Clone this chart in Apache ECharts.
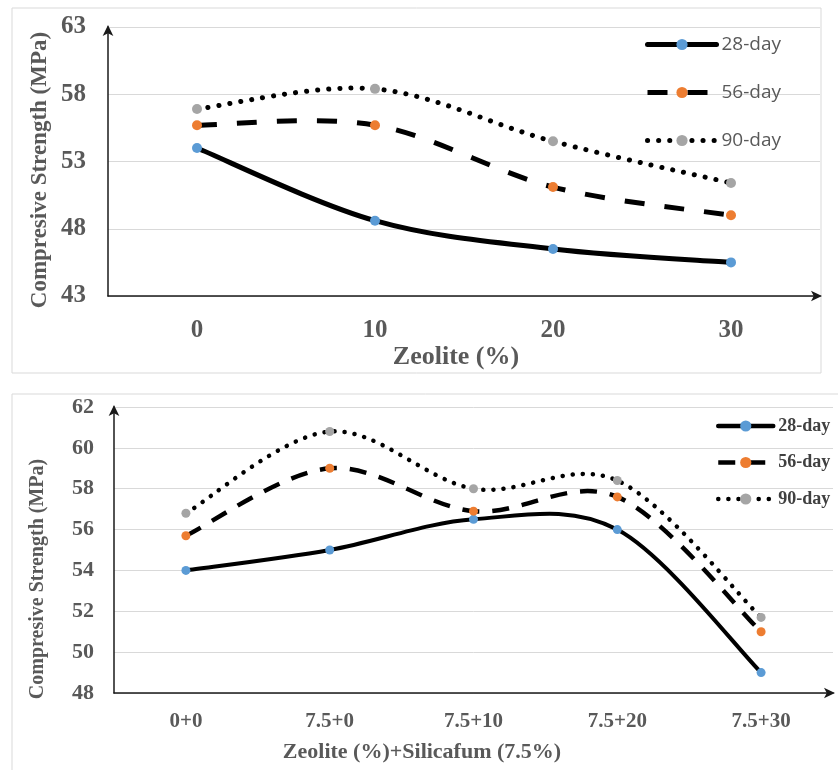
<!DOCTYPE html>
<html>
<head>
<meta charset="utf-8">
<script src="https://cdn.jsdelivr.net/npm/echarts@6/dist/echarts.min.js"></script>
<style>
  html, body { margin: 0; padding: 0; background: #fff; }
  #chart { width: 838px; height: 770px; }
</style>
</head>
<body>
<div id="chart"></div>
<script>
// Compressive strength of concrete with zeolite (top) and zeolite + silica fume (bottom)
const seriesNames = ['28-day', '56-day', '90-day'];

const zeoliteCategories = ['0', '10', '20', '30'];
const zeolite28 = [54.0, 48.6, 46.5, 45.5];
const zeolite56 = [55.7, 55.7, 51.1, 49.0];
const zeolite90 = [56.9, 58.4, 54.5, 51.4];
const zeoliteTicks = [43, 48, 53, 58, 63];

const blendCategories = ['0+0', '7.5+0', '7.5+10', '7.5+20', '7.5+30'];
const blend28 = [54.0, 55.0, 56.5, 56.0, 49.0];
const blend56 = [55.7, 59.0, 56.9, 57.6, 51.0];
const blend90 = [56.8, 60.8, 58.0, 58.4, 51.7];
const blendTicks = [48, 50, 52, 54, 56, 58, 60, 62];

const markerColors = ['#5B9BD5', '#ED7D31', '#A5A5A5'];
const labelGray = '#595959';
const serif = '"Liberation Serif", "Times New Roman", serif';

// Stroke styles: [top chart, bottom chart] for each age
const strokeStyles = [
  [{ width: 5, dash: null, cap: 'round' }, { width: 4, dash: null, cap: 'round' }],
  [{ width: 5, dash: [20, 20], cap: 'butt' }, { width: 4.5, dash: [17, 13], cap: 'butt' }],
  [{ width: 5, dash: [0.1, 11], cap: 'round' }, { width: 4.5, dash: [0.1, 10], cap: 'round' }]
];

// Cardinal (Catmull-Rom style) curve through the projected points, the way
// spreadsheet "smoothed line" charts draw it (overshoot allowed).
function smoothPath(pts) {
  let d = 'M' + pts[0][0] + ' ' + pts[0][1];
  const n = pts.length;
  for (let i = 0; i < n - 1; i++) {
    const p0 = pts[Math.max(i - 1, 0)];
    const p1 = pts[i];
    const p2 = pts[i + 1];
    const p3 = pts[Math.min(i + 2, n - 1)];
    const c1x = p1[0] + (p2[0] - p0[0]) / 6;
    const c1y = p1[1] + (p2[1] - p0[1]) / 6;
    const c2x = p2[0] - (p3[0] - p1[0]) / 6;
    const c2y = p2[1] - (p3[1] - p1[1]) / 6;
    d += ' C' + c1x + ' ' + c1y + ' ' + c2x + ' ' + c2y + ' ' + p2[0] + ' ' + p2[1];
  }
  return d;
}

function curveSeries(values, idx, gridIdx) {
  const s = strokeStyles[idx][gridIdx];
  return {
    type: 'custom',
    xAxisIndex: gridIdx,
    yAxisIndex: gridIdx,
    data: values.map((v, i) => [i, v]),
    z: 2 + idx,
    silent: true,
    renderItem: function (params, api) {
      if (params.dataIndex !== 0) return null;
      const pts = values.map((v, i) => api.coord([i, v]));
      return {
        type: 'path',
        shape: { pathData: smoothPath(pts) },
        style: {
          fill: 'none',
          stroke: '#000',
          lineWidth: s.width,
          lineDash: s.dash,
          lineCap: s.cap,
          lineJoin: 'round'
        }
      };
    }
  };
}

function markerSeries(name, values, idx, gridIdx, size) {
  return {
    name: name,
    type: 'line',
    xAxisIndex: gridIdx,
    yAxisIndex: gridIdx,
    data: values,
    symbol: 'circle',
    symbolSize: size,
    itemStyle: { color: markerColors[idx], borderWidth: 0 },
    lineStyle: { opacity: 0, width: 0 },
    z: 10 + idx
  };
}

function legendItems(gridIdx, w) {
  return seriesNames.map((name, idx) => {
    const s = strokeStyles[idx][gridIdx];
    return {
      name: name,
      itemStyle: { color: markerColors[idx], borderWidth: 0, opacity: 1 },
      lineStyle: { color: '#000', width: w, type: s.dash ? s.dash : 'solid', cap: s.cap, opacity: 1 }
    };
  });
}

function valueAxis(gridIdx, ticks, fontSize, margin) {
  return {
    type: 'value',
    gridIndex: gridIdx,
    min: ticks[0],
    max: ticks[ticks.length - 1],
    interval: ticks[1] - ticks[0],
    axisLine: { show: true, lineStyle: { color: '#1a1a1a', width: 1.5 }, symbol: ['none', 'arrow'], symbolSize: [8, 11], symbolOffset: [0, 2] },
    axisTick: { show: false },
    axisLabel: { color: labelGray, fontFamily: serif, fontWeight: 'bold', fontSize: fontSize, margin: margin },
    splitLine: { show: true, lineStyle: { color: '#d9d9d9', width: 1 } }
  };
}

function categoryAxis(gridIdx, cats, fontSize, margin) {
  return {
    type: 'category',
    gridIndex: gridIdx,
    data: cats,
    boundaryGap: true,
    axisLine: { show: true, lineStyle: { color: '#1a1a1a', width: 1.5 }, symbol: ['none', 'arrow'], symbolSize: [8, 11], symbolOffset: [0, 2] },
    axisTick: { show: false },
    axisLabel: { color: labelGray, fontFamily: serif, fontWeight: 'bold', fontSize: fontSize, margin: margin },
    splitLine: { show: false }
  };
}

const chart = echarts.init(document.getElementById('chart'), null, { renderer: 'canvas' });

const option = {
  backgroundColor: '#fff',
  animation: false,
  grid: [
    { left: 108, right: 18, top: 27, height: 269 },
    { left: 114, right: 5, top: 407, height: 286 }
  ],
  xAxis: [
    categoryAxis(0, zeoliteCategories, 25, 22),
    categoryAxis(1, blendCategories, 21, 18)
  ],
  yAxis: [
    valueAxis(0, zeoliteTicks, 25, 22),
    valueAxis(1, blendTicks, 22, 20)
  ],
  legend: [
    {
      orient: 'vertical',
      left: 645,
      top: 35,
      padding: 0,
      itemWidth: 69,
      itemHeight: 14,
      itemGap: 29,
      data: legendItems(0, 5),
      selectedMode: false,
      textStyle: { color: labelGray, fontFamily: '"Open Sans", sans-serif', fontSize: 19 }
    },
    {
      orient: 'vertical',
      left: 716,
      top: 417,
      padding: 0,
      itemWidth: 55,
      itemHeight: 14,
      itemGap: 18.5,
      data: legendItems(1, 4.5),
      selectedMode: false,
      textStyle: { color: '#404040', fontFamily: serif, fontWeight: 'bold', fontSize: 18 }
    }
  ],
  series: [
    curveSeries(zeolite28, 0, 0),
    curveSeries(zeolite56, 1, 0),
    curveSeries(zeolite90, 2, 0),
    curveSeries(blend28, 0, 1),
    curveSeries(blend56, 1, 1),
    curveSeries(blend90, 2, 1),
    markerSeries(seriesNames[0], zeolite28, 0, 0, 10),
    markerSeries(seriesNames[1], zeolite56, 1, 0, 10),
    markerSeries(seriesNames[2], zeolite90, 2, 0, 10),
    markerSeries(seriesNames[0], blend28, 0, 1, 9),
    markerSeries(seriesNames[1], blend56, 1, 1, 9),
    markerSeries(seriesNames[2], blend90, 2, 1, 9)
  ],
  graphic: [
    { type: 'rect', shape: { x: 12, y: 8, width: 809, height: 365 }, style: { fill: 'none', stroke: '#d9d9d9', lineWidth: 1 }, z: 0 },
    { type: 'rect', shape: { x: 12, y: 394, width: 840, height: 400 }, style: { fill: 'none', stroke: '#d9d9d9', lineWidth: 1 }, z: 0 },
    {
      type: 'text', x: 40, y: 170, rotation: Math.PI / 2,
      style: { text: 'Compresive Strength (MPa)', fill: labelGray, font: 'bold 23px ' + serif, align: 'center', verticalAlign: 'middle' }
    },
    {
      type: 'text', x: 456, y: 357,
      style: { text: 'Zeolite (%)', fill: labelGray, font: 'bold 26px ' + serif, align: 'center', verticalAlign: 'middle' }
    },
    {
      type: 'text', x: 38, y: 579, rotation: Math.PI / 2,
      style: { text: 'Compresive Strength (MPa)', fill: labelGray, font: 'bold 20px ' + serif, align: 'center', verticalAlign: 'middle' }
    },
    {
      type: 'text', x: 422, y: 752,
      style: { text: 'Zeolite (%)+Silicafum (7.5%)', fill: labelGray, font: 'bold 22px ' + serif, align: 'center', verticalAlign: 'middle' }
    }
  ]
};

chart.setOption(option);
</script>
</body>
</html>
